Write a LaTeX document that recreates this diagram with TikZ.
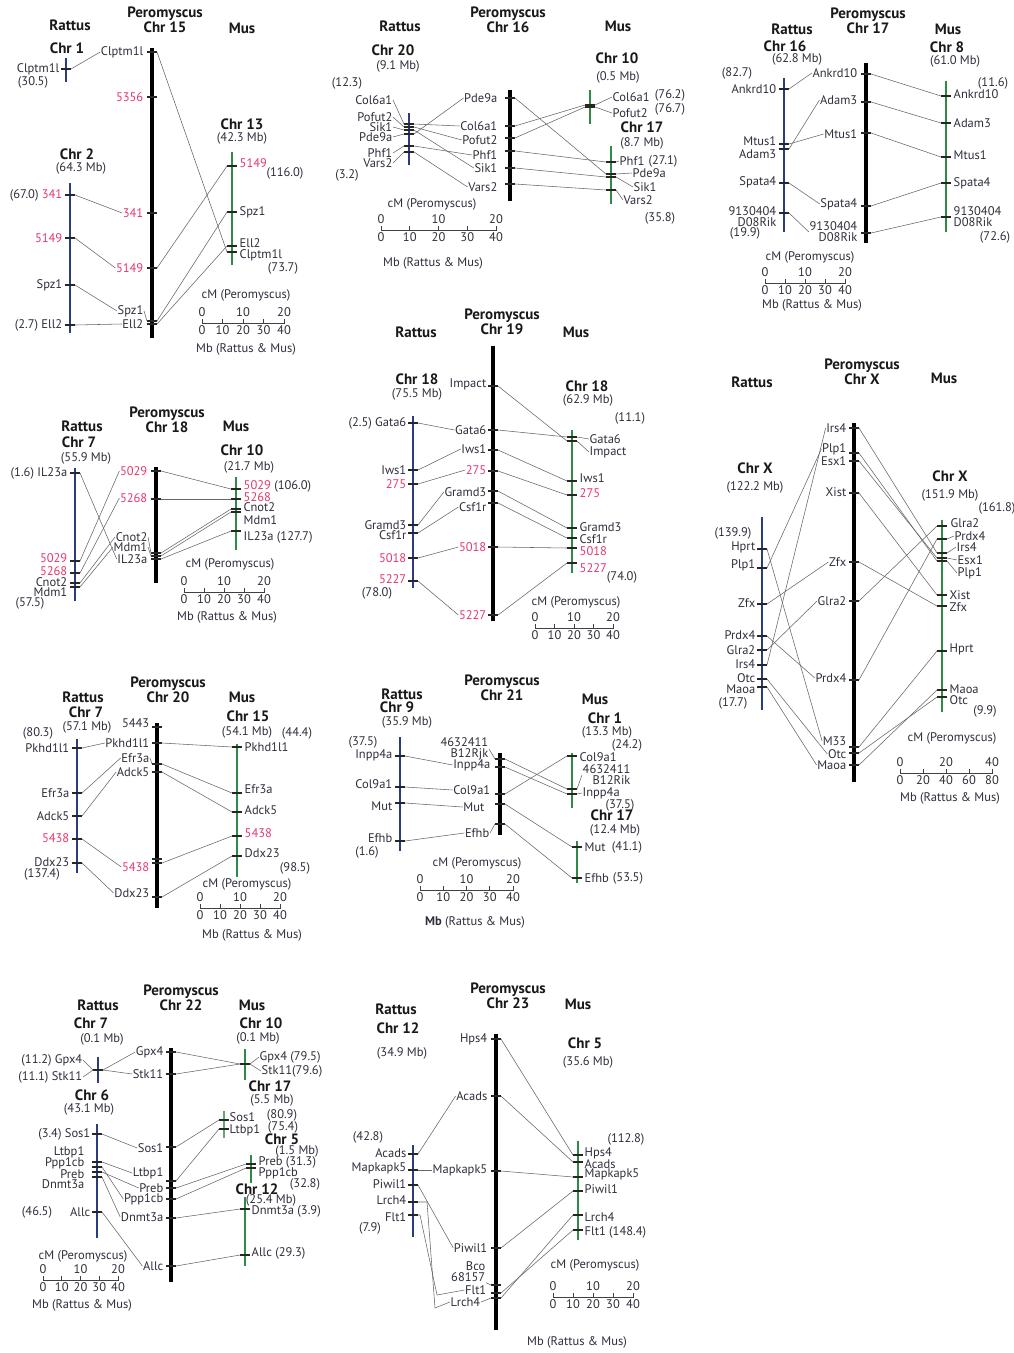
\documentclass[tikz,border=0pt]{standalone}
\usepackage{fontspec}
\setmainfont{PT Sans}
\definecolor{ratc}{HTML}{2B3C7E}
\definecolor{musc}{HTML}{2E8A45}
\definecolor{mkred}{HTML}{E8386B}
\definecolor{txt}{HTML}{2F2F3C}
\newcommand{\mkr}[1]{\textcolor{mkred}{#1}}
% scale bar: name, x, y, length, step
\newcommand{\cmscale}[5]{%
	\draw[sbar] (#2,#3) -- ++(#4,0);
	\foreach \i in {0,...,4} {
			\pgfmathsetmacro{\sx}{#2+\i*#4/4}
			\pgfmathtruncatemacro{\vv}{\i*#5}
			\draw[sbar] (\sx,#3-4) -- (\sx,#3+1);
			\node[lbl, anchor=north] (#1-mb\i) at (\sx,#3+2) {\vv};
		}
	\foreach \i in {0,1,2} {
			\pgfmathsetmacro{\sx}{#2+\i*#4/2}
			\pgfmathtruncatemacro{\vv}{\i*#5}
			\node[lbl, anchor=south] (#1-cm\i) at (\sx,#3-6) {\vv};
		}
}
\begin{document}
\begin{tikzpicture}[x=1pt, y=-1pt,
		hd/.style={font=\bfseries\fontsize{15}{13}\selectfont, align=center, inner sep=0, text=black!90},
		lbl/.style={font=\fontsize{12.5}{11}\selectfont, inner sep=0.5pt, text=txt},
		lr/.style={lbl, anchor=east},
		ll/.style={lbl, anchor=west},
		tck/.style={fill=black!85, minimum width=10, minimum height=1.3, inner sep=0, outer sep=0},
		rbar/.style={ratc, line width=2.4pt},
		pbar/.style={black, line width=3.3pt},
		mbar/.style={musc, line width=2.6pt},
		link/.style={black!60, line width=0.55pt},
		sbar/.style={black!75, line width=0.8pt}]
	\path[fill=white] (0,0) rectangle (1014,1353);
	\useasboundingbox (0,0) rectangle (1014,1353);

	% ---------- Peromyscus Chr 15
	\node[hd] (a-rat) at (70,25) {Rattus};
	\node[hd] (a-per) at (165,20) {Peromyscus\\Chr 15};
	\node[hd] (a-mus) at (242,28) {Mus};
	\node[hd] (a-r1) at (67,48) {Chr 1};
	\node[lbl] (a-r1n) at (33,82) {(30.5)};
	\draw[rbar] (66,58) -- (66,82);
	\node[tck] (a-r-clp) at (66,69) {};
	\node[lr] (a-r-clp-l) at (60,69) {Clptm1l};
	\node[hd] (a-r2) at (77,154) {Chr 2};
	\node[lbl] (a-r2s) at (81,168) {(64.3 Mb)};
	\draw[rbar] (70,183) -- (70,333);
	\foreach \n/\y/\t in {a-r-341/195/{(67.0) \mkr{341}}, a-r-5149/238/{\mkr{5149}}, a-r-spz/285/{Spz1}, a-r-ell/325/{(2.7) Ell2}} {
			\node[tck] (\n) at (70,\y) {};
			\node[lr] (\n-l) at (63,\y) {\t};
		}
	\draw[pbar] (152,48) -- (152,338);
	\foreach \n/\y/\ly/\t in {a-p-clp/52/52/{Clptm1l}, a-p-5356/97/97/{\mkr{5356}}, a-p-341/213/213/{\mkr{341}}, a-p-5149/268/268/{\mkr{5149}}, a-p-spz/321/311/{Spz1}, a-p-ell/324/324/{Ell2}} {
			\node[tck] (\n) at (152,\y) {};
			\node[lr] (\n-l) at (144,\ly) {\t};
		}
	\draw[link] (a-p-spz-l.east) -- (a-p-spz.west);
	\node[hd] (a-m13) at (242,124) {Chr 13};
	\node[lbl] (a-m13s) at (242,138) {(42.3 Mb)};
	\draw[mbar] (232,152) -- (232,265);
	\foreach \n/\y/\ly/\t in {a-m-5149/166/163/{\mkr{5149}}, a-m-spz/212/212/{Spz1}, a-m-ell/246/243/{Ell2}, a-m-clp/252/255/{Clptm1l}} {
			\node[tck] (\n) at (232,\y) {};
			\node[ll] (\n-l) at (239,\ly) {\t};
		}
	\node[lbl] (a-mn1) at (285,173) {(116.0)};
	\node[lbl] (a-mn2) at (283,268) {(73.7)};
	\foreach \a/\b in {a-r-clp/a-p-clp, a-r-341/a-p-341, a-r-5149/a-p-5149, a-r-spz/a-p-spz, a-r-ell/a-p-ell}
	\draw[link] (\a.east) -- (\b-l.west);
	\foreach \a/\b in {a-p-clp/a-m-clp, a-p-5149/a-m-5149, a-p-spz/a-m-spz, a-p-ell/a-m-ell}
	\draw[link] (\a.east) -- (\b.west);
	\cmscale{a-s}{202}{323}{82}{10}
	\node[lbl] (a-cm) at (246,295) {cM (Peromyscus)};
	\node[lbl] (a-mb) at (246,349) {Mb (Rattus \& Mus)};

	% ---------- Peromyscus Chr 16
	\node[hd] (b-rat) at (400,26) {Rattus};
	\node[hd] (b-per) at (508,20) {Peromyscus\\Chr 16};
	\node[hd] (b-mus) at (618,26) {Mus};
	\node[hd] (b-r20) at (393,50) {Chr 20};
	\node[lbl] (b-r20s) at (398,66) {(9.1 Mb)};
	\node[lbl] (b-rn1) at (347,83) {(12.3)};
	\node[lbl] (b-rn2) at (347,175) {(3.2)};
	\draw[rbar] (409,113) -- (409,165);
	\foreach \n/\y/\ly/\t in {b-r-col/124/100/Col6a1, b-r-pof/127/117/Pofut2, b-r-sik/130/127/Sik1, b-r-pde/134/137/Pde9a, b-r-phf/146/153/Phf1, b-r-var/152/163/Vars2} {
			\node[tck] (\n) at (409,\y) {};
			\node[lr] (\n-l) at (393,\ly) {\t};
			\draw[link] (\n-l.east) -- (\n.west);
		}
	\draw[pbar] (510,90) -- (510,201);
	\foreach \n/\y/\ly/\t in {b-p-pde/98/98/Pde9a, b-p-col/126/126/Col6a1, b-p-pof/138/140/Pofut2, b-p-phf/151/155/Phf1, b-p-sik/168/168/Sik1, b-p-var/184/187/Vars2} {
			\node[tck] (\n) at (510,\y) {};
			\node[lr] (\n-l) at (498,\ly) {\t};
		}
	\node[hd] (b-m10) at (617,58) {Chr 10};
	\node[lbl] (b-m10s) at (618,77) {(0.5 Mb)};
	\draw[mbar] (590,90) -- (590,124);
	\foreach \n/\y/\ly/\t in {b-m-col/105/97/Col6a1, b-m-pof/107/113/Pofut2} {
			\node[tck] (\n) at (590,\y) {};
			\node[ll] (\n-l) at (612,\ly) {\t};
			\draw[link] (\n.east) -- (\n-l.west);
		}
	\node[lbl] (b-mn1) at (670,95) {(76.2)};
	\node[lbl] (b-mn2) at (670,109) {(76.7)};
	\node[hd] (b-m17) at (642,127) {Chr 17};
	\node[lbl] (b-m17s) at (642,143) {(8.7 Mb)};
	\draw[mbar] (611,146) -- (611,204);
	\foreach \n/\y/\lx/\ly/\t in {b-m-phf/162/619/161/Phf1, b-m-pde/174/632/173/Pde9a, b-m-sik/177/633/187/Sik1, b-m-var/190/623/200/Vars2} {
			\node[tck] (\n) at (611,\y) {};
			\node[ll] (\n-l) at (\lx,\ly) {\t};
			\draw[link] (\n.east) -- (\n-l.west);
		}
	\node[lbl] (b-mn3) at (663,161) {(27.1)};
	\node[lbl] (b-mn4) at (660,218) {(35.8)};
	\foreach \a/\b in {b-r-pde/b-p-pde, b-r-col/b-p-col, b-r-pof/b-p-pof, b-r-phf/b-p-phf, b-r-sik/b-p-sik, b-r-var/b-p-var}
	\draw[link] (\a.east) -- (\b-l.west);
	\foreach \a/\b in {b-p-col/b-m-col, b-p-pof/b-m-pof, b-p-pde/b-m-pde, b-p-phf/b-m-phf, b-p-sik/b-m-sik, b-p-var/b-m-var}
	\draw[link] (\a.east) -- (\b.west);
	\cmscale{b-s}{381}{230}{115}{10}
	\node[lbl] (b-cm) at (432,204) {cM (Peromyscus)};
	\node[lbl] (b-mb) at (433,263) {Mb (Rattus \& Mus)};

	% ---------- Peromyscus Chr 17
	\node[hd] (c-per) at (868,21) {Peromyscus\\Chr 17};
	\node[hd] (c-rat) at (792,29) {Rattus};
	\node[hd] (c-mus) at (948,29) {Mus};
	\node[hd] (c-r16) at (785,46) {Chr 16};
	\node[lbl] (c-r16s) at (797,59) {(62.8 Mb)};
	\node[lbl] (c-rn1) at (737,73) {(82.7)};
	\node[lbl] (c-rn2) at (745,233) {(19.9)};
	\draw[rbar] (784,78) -- (784,232);
	\foreach \n/\y/\ly/\t in {c-r-ank/89/89/Ankrd10, c-r-mt/144/141/Mtus1, c-r-ad/149/154/Adam3, c-r-spa/183/182/Spata4} {
			\node[tck] (\n) at (784,\y) {};
			\node[lr] (\n-l) at (777,\ly) {\t};
		}
	\node[tck] (c-r-d08) at (784,213) {};
	\node[lr, align=right] (c-r-d08-l) at (777,217) {9130404\\D08Rik};
	\draw[pbar] (866,63) -- (866,243);
	\foreach \n/\y/\ly/\t in {c-p-ank/74/73/Ankrd10, c-p-ad/102/100/Adam3, c-p-mt/133/134/Mtus1, c-p-spa/206/204/Spata4} {
			\node[tck] (\n) at (866,\y) {};
			\node[lr] (\n-l) at (858,\ly) {\t};
		}
	\node[tck] (c-p-d08) at (866,233) {};
	\node[lr, align=right] (c-p-d08-l) at (858,232) {9130404\\D08Rik};
	\node[hd] (c-m8) at (947,47) {Chr 8};
	\node[lbl] (c-m8s) at (955,61) {(61.0 Mb)};
	\draw[mbar] (946,81) -- (946,232);
	\foreach \n/\y/\ly/\t in {c-m-ank/96/94/Ankrd10, c-m-ad/123/123/Adam3, c-m-mt/157/155/Mtus1, c-m-spa/183/183/Spata4} {
			\node[tck] (\n) at (946,\y) {};
			\node[ll] (\n-l) at (953,\ly) {\t};
		}
	\node[tck] (c-m-d08) at (946,217) {};
	\node[ll, align=left] (c-m-d08-l) at (953,217) {9130404\\D08Rik};
	\node[lbl] (c-mn1) at (993,83) {(11.6)};
	\node[lbl] (c-mn2) at (995,237) {(72.6)};
	\foreach \a/\b in {c-r-ank/c-p-ank, c-r-ad/c-p-ad, c-r-mt/c-p-mt, c-r-spa/c-p-spa, c-r-d08/c-p-d08}
	\draw[link] (\a.east) -- (\b-l.west);
	\foreach \a/\b in {c-p-ank/c-m-ank, c-p-ad/c-m-ad, c-p-mt/c-m-mt, c-p-spa/c-m-spa, c-p-d08/c-m-d08}
	\draw[link] (\a.east) -- (\b.west);
	\cmscale{c-s}{765}{283}{80}{10}
	\node[lbl] (c-cm) at (810,257) {cM (Peromyscus)};
	\node[lbl] (c-mb) at (812,305) {Mb (Rattus \& Mus)};

	% ---------- Peromyscus Chr 18
	\node[hd] (d-per) at (167,420) {Peromyscus\\Chr 18};
	\node[hd] (d-rat) at (82,426) {Rattus};
	\node[hd] (d-mus) at (236,426) {Mus};
	\node[hd] (d-r7) at (79,442) {Chr 7};
	\node[lbl] (d-r7s) at (86,458) {(55.9 Mb)};
	\node[lbl] (d-rn) at (30,603) {(57.5)};
	\draw[rbar] (75,468) -- (75,601);
	\foreach \n/\y/\ly/\t in {d-r-il/473/473/{(1.6) IL23a}, d-r-5029/561/558/{\mkr{5029}}, d-r-5268/573/571/{\mkr{5268}}, d-r-cn/583/582/{Cnot2}, d-r-md/587/592/{Mdm1}} {
			\node[tck] (\n) at (75,\y) {};
			\node[lr] (\n-l) at (68,\ly) {\t};
		}
	\draw[pbar] (156,467) -- (156,583);
	\foreach \n/\y/\ly/\t in {d-p-5029/471/471/{\mkr{5029}}, d-p-5268/499/498/{\mkr{5268}}, d-p-cn/553/537/{Cnot2}, d-p-md/556/547/{Mdm1}, d-p-il/559/559/{IL23a}} {
			\node[tck] (\n) at (156,\y) {};
			\node[lr] (\n-l) at (148,\ly) {\t};
		}
	\draw[link] (d-p-cn-l.east) -- (d-p-cn.west);
	\draw[link] (d-p-md-l.east) -- (d-p-md.west);
	\node[hd] (d-m10) at (242,450) {Chr 10};
	\node[lbl] (d-m10s) at (249,467) {(21.7 Mb)};
	\draw[mbar] (236,477) -- (236,550);
	\foreach \n/\y/\ly/\t in {d-m-5029/489/486/{\mkr{5029} (106.0)}, d-m-5268/499/497/{\mkr{5268}}, d-m-cn/509/507/{Cnot2}, d-m-md/512/520/{Mdm1}, d-m-il/531/537/{IL23a (127.7)}} {
			\node[tck] (\n) at (236,\y) {};
			\node[ll] (\n-l) at (243,\ly) {\t};
		}
	\foreach \a/\b in {d-r-il/d-p-il, d-r-5029/d-p-5029, d-r-5268/d-p-5268, d-r-cn/d-p-cn, d-r-md/d-p-md}
	\draw[link] (\a.east) -- (\b-l.west);
	\foreach \a/\b in {d-p-5029/d-m-5029, d-p-5268/d-m-5268, d-p-cn/d-m-cn, d-p-md/d-m-md, d-p-il/d-m-il}
	\draw[link] (\a.east) -- (\b.west);
	\cmscale{d-s}{184}{592}{80}{10}
	\node[lbl] (d-cm) at (230,564) {cM (Peromyscus)};
	\node[lbl] (d-mb) at (227,617) {Mb (Rattus \& Mus)};

	% ---------- Peromyscus Chr 19
	\node[hd] (e-per) at (502,322) {Peromyscus\\Chr 19};
	\node[hd] (e-rat) at (416,332) {Rattus};
	\node[hd] (e-mus) at (576,332) {Mus};
	\node[hd] (e-r18) at (417,379) {Chr 18};
	\node[lbl] (e-r18s) at (417,394) {(75.5 Mb)};
	\node[lbl] (e-rn) at (377,593) {(78.0)};
	\draw[rbar] (413,416) -- (413,588);
	\foreach \n/\y/\ly/\t in {e-r-ga/423/423/{(2.5) Gata6}, e-r-iw/470/470/{Iws1}, e-r-275/484/484/{\mkr{275}}, e-r-gr/525/525/{Gramd3}, e-r-cs/533/535/{Csf1r}, e-r-5018/558/558/{\mkr{5018}}, e-r-5227/581/579/{\mkr{5227}}} {
			\node[tck] (\n) at (413,\y) {};
			\node[lr] (\n-l) at (407,\ly) {\t};
		}
	\draw[pbar] (493,346) -- (493,621);
	\foreach \n/\y/\ly/\t in {e-p-im/386/384/{Impact}, e-p-ga/430/430/{Gata6}, e-p-iw/450/449/{Iws1}, e-p-275/471/470/{\mkr{275}}, e-p-gr/491/492/{Gramd3}, e-p-cs/503/507/{Csf1r}, e-p-5018/547/547/{\mkr{5018}}, e-p-5227/615/615/{\mkr{5227}}} {
			\node[tck] (\n) at (493,\y) {};
			\node[lr] (\n-l) at (487,\ly) {\t};
		}
	\node[hd] (e-m18) at (587,386) {Chr 18};
	\node[lbl] (e-m18s) at (588,400) {(62.9 Mb)};
	\node[lbl] (e-mn1) at (630,418) {(11.1)};
	\node[lbl] (e-mn2) at (622,577) {(74.0)};
	\draw[mbar] (572,430) -- (572,573);
	\foreach \n/\y/\ly/\t in {e-m-iw/481/478/{Iws1}, e-m-275/495/493/{\mkr{275}}, e-m-gr/528/527/{Gramd3}, e-m-cs/538/539/{Csf1r}, e-m-5018/548/551/{\mkr{5018}}, e-m-5227/563/568/{\mkr{5227}}} {
			\node[tck] (\n) at (572,\y) {};
			\node[ll] (\n-l) at (579,\ly) {\t};
		}
	\node[tck] (e-m-ga) at (572,437) {};
	\node[tck] (e-m-im) at (572,441) {};
	\node[ll] (e-m-ga-l) at (589,439) {Gata6};
	\node[ll] (e-m-im-l) at (589,452) {Impact};
	\draw[link] (e-m-ga.east) -- (e-m-ga-l.west);
	\draw[link] (e-m-im.east) -- (e-m-im-l.west);
	\foreach \a/\b in {e-r-ga/e-p-ga, e-r-iw/e-p-iw, e-r-275/e-p-275, e-r-gr/e-p-gr, e-r-cs/e-p-cs, e-r-5018/e-p-5018, e-r-5227/e-p-5227}
	\draw[link] (\a.east) -- (\b-l.west);
	\foreach \a/\b in {e-p-im/e-m-im, e-p-ga/e-m-ga, e-p-iw/e-m-iw, e-p-275/e-m-275, e-p-gr/e-m-gr, e-p-cs/e-m-cs, e-p-5018/e-m-5018, e-p-5227/e-m-5227}
	\draw[link] (\a.east) -- (\b.west);
	\cmscale{e-s}{535}{628}{78}{10}
	\node[lbl] (e-cm) at (576,602) {cM (Peromyscus)};

	% ---------- Peromyscus Chr X
	\node[hd] (f-per) at (862,372) {Peromyscus\\Chr X};
	\node[hd] (f-rat) at (752,382) {Rattus};
	\node[hd] (f-mus) at (944,378) {Mus};
	\node[hd] (f-rx) at (755,468) {Chr X};
	\node[lbl] (f-rxs) at (755,487) {(122.2 Mb)};
	\node[lbl] (f-rn1) at (733,533) {(139.9)};
	\node[lbl] (f-rn2) at (733,703) {(17.7)};
	\draw[rbar] (762,517) -- (762,710);
	\foreach \n/\y/\ly/\t in {f-r-hp/549/547/Hprt, f-r-pl/568/565/Plp1, f-r-zf/604/603/Zfx, f-r-pr/636/635/Prdx4, f-r-gl/650/650/Glra2, f-r-ir/665/664/Irs4, f-r-ot/679/678/Otc, f-r-ma/687/689/Maoa} {
			\node[tck] (\n) at (762,\y) {};
			\node[lr] (\n-l) at (756,\ly) {\t};
		}
	\draw[pbar] (854,423) -- (854,782);
	\foreach \n/\y/\ly/\t in {f-p-ir/428/428/Irs4, f-p-pl/453/449/Plp1, f-p-es/461/461/Esx1, f-p-xi/493/492/Xist, f-p-zf/562/562/Zfx, f-p-gl/601/601/Glra2, f-p-pr/680/678/Prdx4, f-p-m33/747/741/M33, f-p-ot/753/754/Otc, f-p-ma/765/765/Maoa} {
			\node[tck] (\n) at (854,\y) {};
			\node[lr] (\n-l) at (847,\ly) {\t};
		}
	\node[hd] (f-mx) at (950,476) {Chr X};
	\node[lbl] (f-mxs) at (950,495) {(151.9 Mb)};
	\node[lbl] (f-mn1) at (997,508) {(161.8)};
	\node[lbl] (f-mn2) at (985,711) {(9.9)};
	\draw[mbar] (942,520) -- (942,712);
	\foreach \n/\y/\lx/\ly/\t in {f-m-gl/526/950/523/Glra2, f-m-pr/539/954/536/Prdx4, f-m-ir/553/956/547/Irs4, f-m-es/558/957/560/Esx1, f-m-pl/561/957/573/Plp1, f-m-xi/595/949/595/Xist, f-m-zf/606/949/607/Zfx, f-m-hp/651/949/649/Hprt, f-m-ma/690/949/689/Maoa, f-m-ot/697/949/700/Otc} {
			\node[tck] (\n) at (942,\y) {};
			\node[ll] (\n-l) at (\lx,\ly) {\t};
		}
	\foreach \n in {f-m-pr, f-m-ir, f-m-es, f-m-pl}
	\draw[link] (\n.east) -- (\n-l.west);
	\foreach \a/\b in {f-r-hp/f-p-m33, f-r-pl/f-p-pl, f-r-zf/f-p-zf, f-r-pr/f-p-pr, f-r-gl/f-p-gl, f-r-ir/f-p-ir, f-r-ot/f-p-ot, f-r-ma/f-p-ma}
	\draw[link] (\a.east) -- (\b-l.west);
	\foreach \a/\b in {f-p-ir/f-m-ir, f-p-pl/f-m-pl, f-p-es/f-m-es, f-p-xi/f-m-xi, f-p-zf/f-m-zf, f-p-gl/f-m-gl, f-p-pr/f-m-pr, f-p-m33/f-m-hp, f-p-ot/f-m-ot, f-p-ma/f-m-ma}
	\draw[link] (\a.east) -- (\b.west);
	\cmscale{f-s}{900}{773}{92}{20}
	\node[lbl] (f-cm) at (952,738) {cM (Peromyscus)};
	\node[lbl] (f-mb) at (950,798) {Mb (Rattus \& Mus)};

	% ---------- Peromyscus Chr 20
	\node[hd] (g-per) at (168,690) {Peromyscus\\Chr 20};
	\node[hd] (g-rat) at (83,697) {Rattus};
	\node[hd] (g-mus) at (242,697) {Mus};
	\node[hd] (g-r7) at (86,712) {Chr 7};
	\node[lbl] (g-r7s) at (87,727) {(57.1 Mb)};
	\node[lbl] (g-rn1) at (38,733) {(80.3)};
	\node[lbl] (g-rn2) at (42,874) {(137.4)};
	\draw[rbar] (77,739) -- (77,873);
	\foreach \n/\y/\ly/\t in {g-r-pk/748/748/{Pkhd1l1}, g-r-ef/793/793/{Efr3a}, g-r-ad/816/816/{Adck5}, g-r-5438/839/838/{\mkr{5438}}, g-r-dd/863/862/{Ddx23}} {
			\node[tck] (\n) at (77,\y) {};
			\node[lr] (\n-l) at (70,\ly) {\t};
		}
	\draw[pbar] (157,723) -- (157,908);
	\foreach \n/\y/\ly/\t in {g-p-5443/727/723/{5443}, g-p-pk/743/743/{Pkhd1l1}, g-p-ef/764/758/{Efr3a}, g-p-ad/772/772/{Adck5}, g-p-5438/863/867/{\mkr{5438}}, g-p-dd/897/893/{Ddx23}} {
			\node[tck] (\n) at (157,\y) {};
			\node[lr] (\n-l) at (150,\ly) {\t};
		}
	\node[tck] (g-p-5438b) at (157,859) {};
	\draw[link] (g-p-ef-l.east) -- (g-p-ef.west);
	\node[hd] (g-m15) at (248,716) {Chr 15};
	\node[lbl] (g-m15s) at (247,732) {(54.1 Mb)};
	\node[lbl] (g-mn1) at (297,733) {(44.4)};
	\node[lbl] (g-mn2) at (295,868) {(98.5)};
	\draw[mbar] (237,744) -- (237,877);
	\foreach \n/\y/\ly/\t in {g-m-pk/747/747/{Pkhd1l1}, g-m-ef/793/789/{Efr3a}, g-m-ad/812/810/{Adck5}, g-m-5438/836/833/{\mkr{5438}}, g-m-dd/856/853/{Ddx23}} {
			\node[tck] (\n) at (237,\y) {};
			\node[ll] (\n-l) at (244,\ly) {\t};
		}
	\foreach \a/\b in {g-r-pk/g-p-pk, g-r-ef/g-p-ef, g-r-ad/g-p-ad, g-r-5438/g-p-5438, g-r-dd/g-p-dd}
	\draw[link] (\a.east) -- (\b-l.west);
	\foreach \a/\b in {g-p-pk/g-m-pk, g-p-ef/g-m-ef, g-p-ad/g-m-ad, g-p-5438/g-m-5438, g-p-dd/g-m-dd}
	\draw[link] (\a.east) -- (\b.west);
	\cmscale{g-s}{200}{908}{80}{10}
	\node[lbl] (g-cm) at (247,884) {cM (Peromyscus)};
	\node[lbl] (g-mb) at (252,935) {Mb (Rattus \& Mus)};

	% ---------- Peromyscus Chr 21
	\node[hd] (h-per) at (502,688) {Peromyscus\\Chr 21};
	\node[hd] (h-rat) at (402,694) {Rattus};
	\node[hd] (h-r9) at (397,707) {Chr 9};
	\node[lbl] (h-r9s) at (407,722) {(35.9 Mb)};
	\node[hd] (h-mus) at (595,699) {Mus};
	\node[lbl] (h-rn1) at (363,742) {(37.5)};
	\node[lbl] (h-rn2) at (367,852) {(1.6)};
	\draw[rbar] (400,737) -- (400,851);
	\foreach \n/\y/\ly/\t in {h-r-in/756/755/Inpp4a, h-r-co/787/784/Col9a1, h-r-mu/803/806/Mut, h-r-ef/841/838/Efhb} {
			\node[tck] (\n) at (400,\y) {};
			\node[lr] (\n-l) at (393,\ly) {\t};
		}
	\draw[pbar] (500,753) -- (500,835);
	\foreach \n/\y/\lx/\ly/\t in {h-p-in/767/491/765/Inpp4a, h-p-co/794/491/790/Col9a1, h-p-mu/804/485/807/Mut, h-p-ef/824/490/833/Efhb} {
			\node[tck] (\n) at (500,\y) {};
			\node[lr] (\n-l) at (\lx,\ly) {\t};
		}
	\node[tck] (h-p-rik) at (500,759) {};
	\node[lr, align=right] (h-p-rik-l) at (489,749) {4632411\\B12Rjk};
	\draw[link] (h-p-rik-l.east) -- (h-p-rik.west);
	\draw[link] (h-p-ef-l.east) -- (h-p-ef.west);
	\node[hd] (h-m1) at (605,718) {Chr 1};
	\node[lbl] (h-m1s) at (607,732) {(13.3 Mb)};
	\node[lbl] (h-mn1) at (627,745) {(24.2)};
	\node[lbl] (h-mn2) at (620,805) {(37.5)};
	\draw[mbar] (572,753) -- (572,808);
	\node[tck] (h-m-co) at (572,756) {};
	\node[ll] (h-m-co-l) at (579,757) {Col9a1};
	\node[tck] (h-m-rik) at (572,789) {};
	\node[ll, align=right] (h-m-rik-l) at (582,775) {4632411\\B12Rik};
	\node[tck] (h-m-in) at (572,794) {};
	\node[ll] (h-m-in-l) at (582,793) {Inpp4a};
	\draw[link] (h-m-rik.east) -- (h-m-rik-l.west);
	\draw[link] (h-m-in.east) -- (h-m-in-l.west);
	\node[hd] (h-m17) at (612,815) {Chr 17};
	\node[lbl] (h-m17s) at (615,830) {(12.4 Mb)};
	\draw[mbar] (577,841) -- (577,883);
	\node[tck] (h-m-mu) at (577,847) {};
	\node[ll] (h-m-mu-l) at (584,847) {Mut};
	\node[tck] (h-m-ef) at (577,878) {};
	\node[ll] (h-m-ef-l) at (584,878) {Efhb};
	\node[lbl] (h-mn3) at (627,847) {(41.1)};
	\node[lbl] (h-mn4) at (628,878) {(53.5)};
	\foreach \a/\b in {h-r-in/h-p-in, h-r-co/h-p-co, h-r-mu/h-p-mu, h-r-ef/h-p-ef}
	\draw[link] (\a.east) -- (\b-l.west);
	\foreach \a/\b in {h-p-rik/h-m-rik, h-p-in/h-m-in, h-p-co/h-m-co, h-p-mu/h-m-mu, h-p-ef/h-m-ef}
	\draw[link] (\a.east) -- (\b.west);
	\cmscale{h-s}{420}{890}{93}{10}
	\node[lbl] (h-cm) at (477,863) {cM (Peromyscus)};
	\node[lbl] (h-mb) at (475,922) {\textbf{Mb} (Rattus \& Mus)};

	% ---------- Peromyscus Chr 22
	\node[hd] (i-per) at (181,998) {Peromyscus\\Chr 22};
	\node[hd] (i-rat) at (98,1005) {Rattus};
	\node[hd] (i-mus) at (252,1005) {Mus};
	\node[hd] (i-r7) at (91,1023) {Chr 7};
	\node[lbl] (i-r7s) at (102,1039) {(0.1 Mb)};
	\draw[rbar] (98,1057) -- (98,1083);
	\node[tck] (i-r-gs) at (98,1070) {};
	\node[lr] (i-r-gpx-l) at (83,1060) {(11.2) Gpx4};
	\node[lr] (i-r-stk-l) at (83,1077) {(11.1) Stk11};
	\draw[link] (i-r-gpx-l.east) -- (i-r-gs.west);
	\draw[link] (i-r-stk-l.east) -- (i-r-gs.west);
	\node[hd] (i-r6) at (92,1095) {Chr 6};
	\node[lbl] (i-r6s) at (89,1109) {(43.1 Mb)};
	\node[lbl] (i-rn) at (37,1212) {(46.5)};
	\draw[rbar] (97,1124) -- (97,1238);
	\foreach \n/\y/\lx/\ly/\t in {i-r-sos/1134/91/1134/{(3.4) Sos1}, i-r-lt/1162/85/1152/{Ltbp1}, i-r-pp/1167/85/1163/{Ppp1cb}, i-r-pr/1172/85/1174/{Preb}, i-r-dn/1177/85/1184/{Dnmt3a}, i-r-al/1212/91/1212/{Allc}} {
			\node[tck] (\n) at (97,\y) {};
			\node[lr] (\n-l) at (\lx,\ly) {\t};
		}
	\draw[pbar] (171,1048) -- (171,1282);
	\foreach \n/\y/\ly/\t in {i-p-gpx/1052/1052/Gpx4, i-p-stk/1074/1074/Stk11, i-p-sos/1147/1148/Sos1, i-p-lt/1181/1173/Ltbp1, i-p-pr/1188/1188/Preb, i-p-pp/1199/1199/Ppp1cb, i-p-dn/1218/1217/Dnmt3a, i-p-al/1266/1266/Allc} {
			\node[tck] (\n) at (171,\y) {};
			\node[lr] (\n-l) at (164,\ly) {\t};
		}
	\node[hd] (i-m10) at (261,1023) {Chr 10};
	\node[lbl] (i-m10s) at (258,1038) {(0.1 Mb)};
	\draw[mbar] (245,1049) -- (245,1080);
	\node[tck] (i-m-gs) at (245,1064) {};
	\node[ll] (i-m-gpx-l) at (259,1057) {Gpx4 (79.5)};
	\node[ll] (i-m-stk-l) at (261,1071) {Stk11(79.6)};
	\draw[link] (i-m-gs.east) -- (i-m-gpx-l.west);
	\draw[link] (i-m-gs.east) -- (i-m-stk-l.west);
	\node[hd] (i-m17) at (270,1086) {Chr 17};
	\node[lbl] (i-m17s) at (272,1100) {(5.5 Mb)};
	\draw[mbar, musc!75] (224,1111) -- (224,1138);
	\node[tck] (i-m-sos) at (224,1120) {};
	\node[ll] (i-m-sos-l) at (229,1117) {Sos1};
	\node[tck] (i-m-lt) at (224,1129) {};
	\node[ll] (i-m-lt-l) at (229,1130) {Ltbp1};
	\node[lbl] (i-mn1) at (282,1115) {(80.9)};
	\node[lbl] (i-mn2) at (283,1127) {(75.4)};
	\node[hd] (i-m5) at (282,1139) {Chr 5};
	\node[lbl] (i-m5s) at (297,1151) {(1.5 Mb)};
	\draw[mbar] (251,1155) -- (251,1183);
	\node[tck] (i-m-pr) at (251,1164) {};
	\node[ll] (i-m-pr-l) at (258,1162) {Preb (31.3)};
	\node[tck] (i-m-pp) at (251,1168) {};
	\node[ll] (i-m-pp-l) at (258,1173) {Ppp1cb};
	\node[lbl] (i-mn3) at (305,1184) {(32.8)};
	\node[hd] (i-m12) at (257,1189) {Chr 12};
	\node[lbl] (i-m12s) at (271,1200) {(25.4 Mb)};
	\draw[mbar] (245,1197) -- (245,1266);
	\node[tck] (i-m-dn) at (245,1209) {};
	\node[ll] (i-m-dn-l) at (251,1211) {Dnmt3a (3.9)};
	\node[tck] (i-m-al) at (245,1255) {};
	\node[ll] (i-m-al-l) at (251,1253) {Allc (29.3)};
	\foreach \a/\b in {i-r-gs/i-p-gpx, i-r-gs/i-p-stk, i-r-sos/i-p-sos, i-r-lt/i-p-lt, i-r-pr/i-p-pr, i-r-pp/i-p-pp, i-r-dn/i-p-dn, i-r-al/i-p-al}
	\draw[link] (\a.east) -- (\b-l.west);
	\foreach \a/\b in {i-p-gpx/i-m-gs, i-p-stk/i-m-gs, i-p-sos/i-m-sos, i-p-lt/i-m-lt, i-p-pr/i-m-pr, i-p-pp/i-m-pp, i-p-dn/i-m-dn, i-p-al/i-m-al}
	\draw[link] (\a.east) -- (\b.west);
	\cmscale{i-s}{43}{1280}{75}{10}
	\node[lbl] (i-cm) at (83,1256) {cM (Peromyscus)};
	\node[lbl] (i-mb) at (82,1305) {Mb (Rattus \& Mus)};

	% ---------- Peromyscus Chr 23
	\node[hd] (j-per) at (508,996) {Peromyscus\\Chr 23};
	\node[hd] (j-rat) at (396,1009) {Rattus};
	\node[hd] (j-mus) at (578,1004) {Mus};
	\node[hd] (j-r12) at (398,1028) {Chr 12};
	\node[lbl] (j-r12s) at (402,1053) {(34.9 Mb)};
	\node[lbl] (j-rn1) at (368,1137) {(42.8)};
	\node[lbl] (j-rn2) at (370,1228) {(7.9)};
	\draw[rbar] (413,1145) -- (413,1237);
	\foreach \n/\y/\ly/\t in {j-r-ac/1154/1153/Acads, j-r-mk/1170/1168/Mapkapk5, j-r-pw/1185/1184/Piwil1, j-r-lr/1202/1200/Lrch4, j-r-fl/1215/1217/Flt1} {
			\node[tck] (\n) at (413,\y) {};
			\node[lr] (\n-l) at (407,\ly) {\t};
		}
	\draw[pbar] (496,1034) -- (496,1330);
	\foreach \n/\y/\lx/\ly/\t in {j-p-hp/1039/488/1039/Hps4, j-p-ac/1096/488/1096/Acads, j-p-mk/1171/488/1170/Mapkapk5, j-p-pw/1248/488/1248/Piwil1, j-p-fl/1293/487/1290/Flt1, j-p-lr/1298/481/1302/Lrch4} {
			\node[tck] (\n) at (496,\y) {};
			\node[lr] (\n-l) at (\lx,\ly) {\t};
		}
	\node[tck] (j-p-bco) at (496,1285) {};
	\node[lr, align=right] (j-p-bco-l) at (486,1272) {Bco\\68157};
	\draw[link] (j-p-bco-l.south east) -- (j-p-bco.west);
	\draw[link] (j-p-lr-l.east) -- (j-p-lr.west);
	\node[hd] (j-m5) at (585,1043) {Chr 5};
	\node[lbl] (j-m5s) at (588,1062) {(35.6 Mb)};
	\node[lbl] (j-mn) at (626,1139) {(112.8)};
	\draw[mbar] (578,1141) -- (578,1240);
	\foreach \n/\y/\ly/\t in {j-m-hp/1155/1153/{Hps4}, j-m-ac/1162/1164/{Acads}, j-m-mk/1177/1174/{Mapkapk5}, j-m-pw/1191/1189/{Piwil1}, j-m-lr/1215/1217/{Lrch4}, j-m-fl/1230/1232/{Flt1 (148.4)}} {
			\node[tck] (\n) at (578,\y) {};
			\node[ll] (\n-l) at (584,\ly) {\t};
		}
	\coordinate (j-lr1) at (427,1202);
	\coordinate (j-lr2) at (435,1308);
	\coordinate (j-fl1) at (420,1215);
	\coordinate (j-fl2) at (437,1295);
	\foreach \a/\b in {j-r-ac/j-p-ac, j-r-mk/j-p-mk, j-r-pw/j-p-pw}
	\draw[link] (\a.east) -- (\b-l.west);
	\draw[link] (j-r-lr.east) -- (j-lr1) -- (j-lr2) -- (j-p-lr-l.west);
	\draw[link] (j-r-fl.east) -- (j-fl1) -- (j-fl2) -- (j-p-fl-l.west);
	\foreach \a/\b in {j-p-hp/j-m-hp, j-p-ac/j-m-ac, j-p-mk/j-m-mk, j-p-pw/j-m-pw, j-p-fl/j-m-fl, j-p-lr/j-m-lr}
	\draw[link] (\a.east) -- (\b.west);
	\cmscale{j-s}{553}{1297}{80}{10}
	\node[lbl] (j-cm) at (595,1265) {cM (Peromyscus)};
	\node[lbl] (j-mb) at (577,1342) {Mb (Rattus \& Mus)};
\end{tikzpicture}
\end{document}
